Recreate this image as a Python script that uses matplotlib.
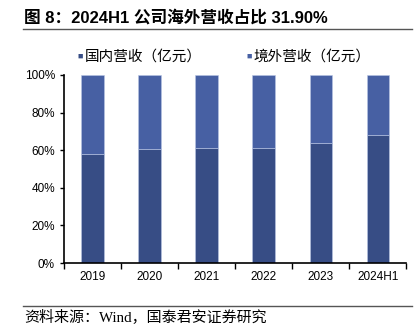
import matplotlib
matplotlib.use("Agg")
import matplotlib.pyplot as plt
from matplotlib.lines import Line2D
from matplotlib.ticker import FixedLocator, PercentFormatter
import numpy as np

# data (domestic share, %)
years = ["2019", "2020", "2021", "2022", "2023", "2024H1"]
domestic = [57.9, 60.5, 61.4, 61.4, 63.6, 68.1]
overseas = [100 - d for d in domestic]

c_dom = "#374D85"
c_ovs = "#4760A3"
fonts = ["Liberation Sans", "Noto Sans CJK SC"]

fig = plt.figure(figsize=(4.17, 3.26), dpi=100)
ax = fig.add_axes([0.1535, 0.193, 0.8205, 0.577])

x = np.arange(len(years))
ax.bar(x, domestic, width=0.39, color=c_dom, edgecolor="#B9C6E4", linewidth=0.4)
ax.bar(x, overseas, bottom=domestic, width=0.39, color=c_ovs, edgecolor="#B9C6E4", linewidth=0.4)

ax.set_xlim(-0.5, len(years) - 0.5)
ax.set_ylim(0, 100)
ax.set_yticks(range(0, 101, 20))
ax.yaxis.set_major_formatter(PercentFormatter(decimals=0))
ax.set_xticks(x)
ax.set_xticklabels(years)
ax.xaxis.set_minor_locator(FixedLocator(np.arange(-0.5, len(years), 1)))
ax.tick_params(axis="x", which="major", length=0, pad=6)
ax.tick_params(axis="x", which="minor", length=4, width=1, direction="out")
ax.tick_params(axis="y", length=3, width=1, direction="out")
for lab in ax.get_xticklabels() + ax.get_yticklabels():
    lab.set_fontfamily(fonts)
    lab.set_fontsize(8.5)
for s in ["top", "right"]:
    ax.spines[s].set_visible(False)
for s in ["left", "bottom"]:
    ax.spines[s].set_linewidth(1.2)

# legend
fig.text(0.187, 0.827, "■", color=c_dom, fontsize=6.5, va="center", family=fonts)
fig.text(0.204, 0.827, "国内营收（亿元）", fontsize=10.5, va="center", family=fonts)
fig.text(0.591, 0.827, "■", color=c_ovs, fontsize=6.5, va="center", family=fonts)
fig.text(0.608, 0.827, "境外营收（亿元）", fontsize=10.5, va="center", family=fonts)

# title and footer
fig.text(0.057, 0.945, "图 8：2024H1 公司海外营收占比 31.90%", fontsize=12,
         fontweight="bold", va="center", family=fonts)
fig.add_artist(Line2D([0.055, 0.988], [0.911, 0.911], color="#555555", lw=1))
fig.add_artist(Line2D([0.055, 0.988], [0.062, 0.062], color="#555555", lw=1))
fig.text(0.057, 0.025, "资料来源：Wind，国泰君安证券研究", fontsize=10.8, va="center",
         family=["Liberation Serif", "Noto Sans CJK SC"])

fig.savefig("out.png", dpi=100)
